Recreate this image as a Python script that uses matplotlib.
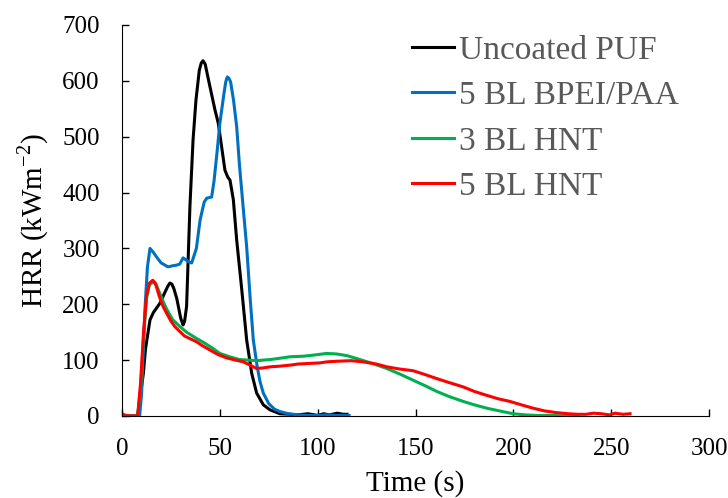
import matplotlib
matplotlib.use("Agg")
from matplotlib import pyplot as plt

font = {"family": "Liberation Serif", "size": 18}
matplotlib.rc("font", **font)
matplotlib.rcParams["mathtext.fontset"] = "custom"
matplotlib.rcParams["mathtext.rm"] = "Liberation Serif"

# Uncoated PUF
puf_t = [0, 5, 8, 10.9, 12, 14.3, 16, 19.4, 22, 23.5, 24.5, 25.5, 26.5, 28, 30, 31.2, 32, 33,
         34.7, 36.3, 37.8, 39.5, 40.5, 41.4, 42.5, 44.3, 47.5, 49.2, 50.9, 52.6, 54, 55.2, 56.9,
         58.6, 61.2, 63.7, 66.3, 68.8, 72.2, 75.6, 80.7, 86, 90, 95, 100, 103, 106, 110, 113, 115]
puf_hrr = [0, 0, 0, 76, 120, 172, 185, 202, 222, 233, 238, 236, 228, 210, 175, 163, 170, 196,
           375, 494, 566, 619, 632, 636, 630, 600, 548, 524, 482, 440, 428, 422, 387,
           315, 226, 136, 76, 41, 20, 11, 4, 3, 2, 4, 1, 4, 2, 5, 3, 3]

# 5 BL BPEI/PAA
bpei_t = [0, 9, 10, 11.8, 13, 14.3, 16, 18, 20, 23.5, 26, 27.8, 29.5, 31.2, 32.5, 34, 35.6, 38,
          39.9, 42, 43.3, 45.8, 47, 48.5, 50, 52, 53, 53.8, 54.6, 55.5, 57, 58.6, 60, 62, 63.7,
          65.5, 67.1, 69, 70.5, 72.2, 75, 78, 80.7, 85, 90, 95, 100, 105, 110, 116]
bpei_hrr = [0, 0, 40, 196, 267, 300, 293, 283, 274, 267, 269, 270, 272, 283, 280, 276, 274, 300,
            351, 383, 390, 392, 420, 470, 524, 575, 598, 607, 605, 598, 565, 518, 450, 370, 303,
            210, 136, 90, 62, 41, 22, 12, 8, 4, 2, 1, 1, 2, 1, 1]

# 3 BL HNT
hnt3_t = [0, 8, 9.5, 11, 12.5, 14, 16, 17.5, 19, 21, 23, 26, 29.6, 33, 38, 42, 46, 50, 55, 60,
          65, 68.8, 72, 75.6, 80, 85.8, 92.6, 98, 104.6, 109.7, 115, 121.6, 128, 135.3, 142,
          148.8, 155, 160.8, 167, 174.4, 180, 186.3, 193, 199.9, 206, 212, 220, 227, 233]
hnt3_hrr = [0, 0, 50, 140, 210, 235, 240, 235, 222, 205, 190, 172, 160, 150, 139, 131, 122, 112,
            106, 101, 100, 99, 100, 101, 103, 106, 107, 109, 112, 111, 108, 101, 94, 85, 75,
            64, 54, 44, 35, 26, 20, 14, 9, 4, 2, 1, 1, 0, 1]

# 5 BL HNT
hnt5_t = [0, 2, 5, 8, 9.5, 11, 12.5, 14, 15.7, 17, 19, 21, 22.8, 25, 27, 29.6, 32, 35, 38, 41,
          45, 49, 53.5, 58, 62, 66, 68.8, 72, 75.6, 80, 85.8, 90, 95, 101, 105, 110, 117, 123,
          130, 135.3, 142, 148.8, 155, 160.8, 167, 174.4, 180, 186.3, 192, 198.3, 204, 210,
          216, 222, 228, 233, 237, 241, 245, 249, 252, 256, 259.6]
hnt5_hrr = [4, 1, 0, 0, 60, 150, 215, 238, 243, 238, 215, 196, 184, 170, 160, 151, 143, 138, 133,
            126, 118, 110, 104, 100, 97, 90, 85, 86, 88, 89, 91, 93, 94, 95, 97, 98, 99, 97,
            93, 88, 84, 81, 74, 67, 60, 52, 44, 37, 31, 26, 20, 14,
            9, 6, 4, 3, 3, 5, 4, 2, 5, 3, 4]

fig = plt.figure(figsize=(7.28, 4.98), dpi=100)
ax = fig.add_axes([0.1676, 0.1647, 0.8064, 0.7851])

ax.plot(puf_t, puf_hrr, color="black", linewidth=2.2, label="Uncoated PUF")
ax.plot(bpei_t, bpei_hrr, color="#0070C0", linewidth=2.2, label="5 BL BPEI/PAA")
ax.plot(hnt3_t, hnt3_hrr, color="#00B050", linewidth=2.2, label="3 BL HNT")
ax.plot(hnt5_t, hnt5_hrr, color="#FF0000", linewidth=2.2, label="5 BL HNT")

ax.set_xlim(0, 300)
ax.set_ylim(0, 700)
ax.set_xticks(range(0, 301, 50))
ax.set_yticks(range(0, 701, 100))
ax.tick_params(direction="in", length=5, width=1, pad=16)
ax.spines["top"].set_visible(False)
ax.spines["right"].set_visible(False)
ax.set_xlabel("Time (s)", fontsize=21, labelpad=7)
ax.set_ylabel("HRR (kWm$^{\\mathrm{-2}}$)", fontsize=21, labelpad=8)

leg = ax.legend(loc="upper left", bbox_to_anchor=(0.494, 0.974), frameon=False,
                fontsize=24, handlelength=1.25, handletextpad=0.15,
                labelspacing=0.45, borderaxespad=0, borderpad=0)
for txt in leg.get_texts():
    txt.set_color("#595959")

fig.savefig("out.png", dpi=100)
